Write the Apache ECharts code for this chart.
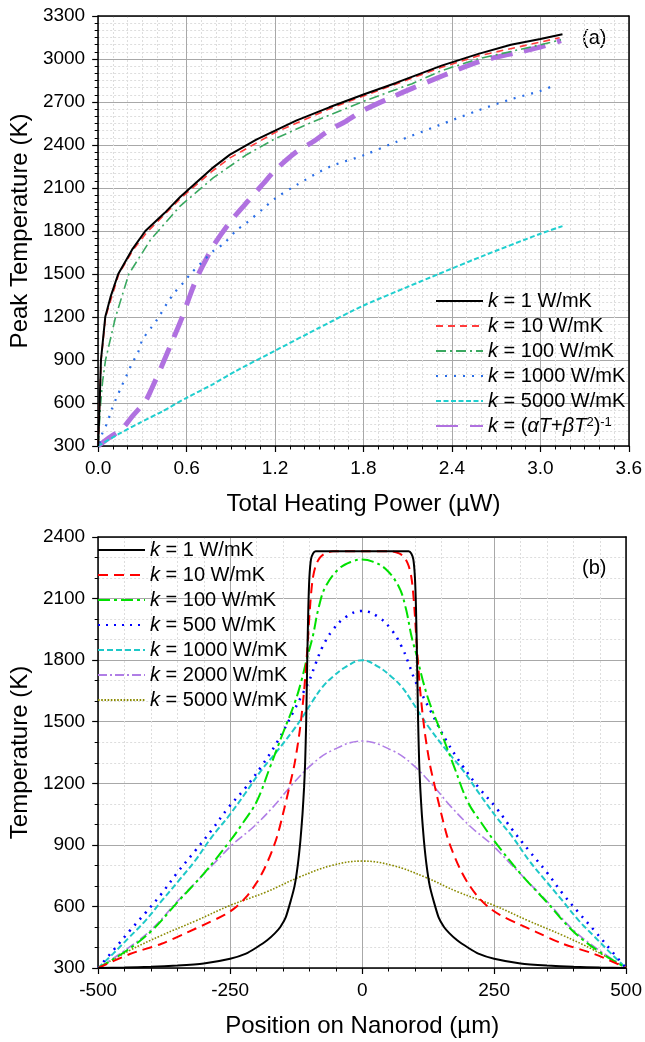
<!DOCTYPE html>
<html><head><meta charset="utf-8">
<script src="https://cdn.jsdelivr.net/npm/echarts/dist/echarts.min.js"></script>
<style>html,body{margin:0;padding:0;background:#fff}#c{width:645px;height:1042px}</style>
</head><body><div id="c"></div>
<script>
// ---------- Panel (a): Peak temperature vs total heating power ----------
const aXTicks = [0, 3.6, 0.6];      // min, max, interval (µW)
const aYTicks = [300, 3300, 300];   // min, max, interval (K)
const aK1 = [[0,300],[0.005,450],[0.01,600],[0.019,900],[0.048,1200],[0.084,1340],[0.136,1500],[0.23,1670],[0.32,1800],[0.45,1925],[0.556,2037],[0.77,2235],[0.894,2333],[1.073,2438],[1.2,2500],[1.343,2570],[1.568,2663],[1.8,2752],[2.02,2833],[2.33,2954],[2.58,3036],[2.8,3099],[3.0,3140],[3.15,3172]];
const aK10 = [[0,300],[0.005,450],[0.01,600],[0.02,900],[0.05,1200],[0.14,1500],[0.235,1665],[0.33,1790],[0.556,2025],[0.77,2215],[0.894,2310],[1.2,2487],[1.568,2652],[1.8,2742],[2.33,2942],[2.58,3022],[3.0,3118],[3.13,3148]];
const aK100 = [[0,300],[0.008,450],[0.017,600],[0.03,750],[0.05,900],[0.118,1200],[0.208,1500],[0.354,1737],[0.556,1974],[0.78,2170],[1.0,2328],[1.2,2444],[1.455,2561],[1.8,2705],[2.13,2828],[2.33,2919],[2.58,3001],[3.0,3099],[3.14,3134]];
const aK1000 = [[0.01,320],[0.028,388],[0.062,463],[0.09,551],[0.12,626],[0.158,714],[0.197,802],[0.23,877],[0.27,951],[0.3,1040],[0.36,1126],[0.41,1198],[0.47,1300],[0.52,1372],[0.58,1442],[0.63,1505],[0.69,1568],[0.79,1668],[0.85,1710],[0.94,1807],[1.0,1851],[1.12,1956],[1.2,2026],[1.343,2119],[1.568,2247],[1.8,2328],[2.02,2421],[2.31,2537],[2.58,2642],[2.8,2719],[3.0,2777],[3.08,2810]];
const aK5000 = [[0,300],[0.14,384],[0.275,458],[0.433,540],[0.594,633],[0.77,726],[0.927,819],[1.2,965],[1.5,1125],[1.8,1280],[2.31,1500],[2.62,1630],[3.0,1781],[3.15,1834]];
const aKvar = [[0,300],[0.084,365],[0.16,416],[0.23,505],[0.32,612],[0.365,705],[0.43,854],[0.51,1050],[0.567,1191],[0.612,1319],[0.668,1470],[0.736,1610],[0.79,1710],[0.894,1862],[1.0,1990],[1.12,2130],[1.2,2223],[1.343,2351],[1.455,2421],[1.568,2502],[1.68,2565],[1.8,2642],[1.995,2735],[2.13,2795],[2.35,2888],[2.58,2980],[2.85,3048],[3.0,3083],[3.14,3129]];

// ---------- Panel (b): Temperature along the nanorod ----------
const bXTicks = [-500, 500, 250];
const bYTicks = [300, 2400, 300];
const bK1 = [[-500,300],[-450,302],[-400,306],[-350,312],[-300,322],[-250,345],[-220,370],[-200,400],[-180,435],[-165,470],[-155,500],[-145,545],[-135,630],[-128,700],[-122,800],[-117,920],[-113,1050],[-110,1180],[-108,1300],[-106,1500],[-104,1800],[-102,2050],[-100,2200],[-97,2290],[-93,2320],[-88,2330],[-50,2330],[0,2330],[50,2330],[88,2330],[93,2320],[97,2290],[100,2200],[102,2050],[104,1800],[106,1500],[108,1300],[110,1180],[113,1050],[117,920],[122,800],[128,700],[135,630],[145,545],[155,500],[165,470],[180,435],[200,400],[220,370],[250,345],[300,322],[350,312],[400,306],[450,302],[500,300]];
const bK10 = [[-500,300],[-440,368],[-380,418],[-330,475],[-300,510],[-260,560],[-240,595],[-220,645],[-200,715],[-185,785],[-170,875],[-160,950],[-150,1050],[-138,1180],[-128,1296],[-118,1460],[-110,1650],[-104,1850],[-99,2050],[-94,2190],[-88,2260],[-80,2300],[-70,2320],[-55,2330],[0,2330],[55,2330],[70,2320],[80,2300],[88,2260],[94,2190],[99,2050],[104,1850],[110,1650],[118,1460],[128,1296],[138,1180],[150,1050],[160,950],[170,875],[185,785],[200,715],[220,645],[240,595],[260,560],[300,510],[330,475],[380,418],[440,368],[500,300]];
const bK100 = [[-500,300],[-450,378],[-400,478],[-350,620],[-300,760],[-250,920],[-225,1010],[-200,1110],[-175,1275],[-150,1445],[-128,1590],[-115,1700],[-104,1815],[-94,1910],[-82,2060],[-69,2160],[-44,2245],[-20,2280],[0,2290],[20,2280],[44,2245],[69,2160],[82,2060],[94,1910],[104,1815],[115,1700],[128,1590],[150,1445],[175,1275],[200,1110],[225,1010],[250,920],[300,760],[350,620],[400,478],[450,378],[500,300]];
const bK500 = [[-500,300],[-470,390],[-440,482],[-410,570],[-380,662],[-350,765],[-315,875],[-285,972],[-254,1080],[-222,1175],[-191,1282],[-160,1405],[-129,1555],[-113,1635],[-100,1702],[-88,1784],[-75,1865],[-56,1946],[-31,2010],[0,2040],[31,2010],[56,1946],[75,1865],[88,1784],[100,1702],[113,1635],[129,1555],[160,1405],[191,1282],[222,1175],[254,1080],[285,972],[315,875],[350,765],[380,662],[410,570],[440,482],[470,390],[500,300]];
const bK1000 = [[-500,300],[-472,369],[-441,450],[-410,532],[-379,629],[-347,727],[-316,824],[-285,938],[-254,1036],[-222,1149],[-191,1263],[-160,1360],[-130,1460],[-113,1523],[-94,1600],[-75,1670],[-56,1718],[-31,1767],[0,1800],[31,1767],[56,1718],[75,1670],[94,1600],[113,1523],[130,1460],[160,1360],[191,1263],[222,1149],[254,1036],[285,938],[316,824],[347,727],[379,629],[410,532],[441,450],[472,369],[500,300]];
const bK2000 = [[-500,300],[-450,385],[-400,485],[-350,625],[-316,715],[-281,808],[-244,905],[-206,987],[-169,1084],[-131,1198],[-94,1295],[-57,1360],[0,1406],[57,1360],[94,1295],[131,1198],[169,1084],[206,987],[244,905],[281,808],[316,715],[350,625],[400,485],[450,385],[500,300]];
const bK5000 = [[-500,300],[-440,386],[-380,459],[-315,530],[-250,605],[-182,670],[-119,743],[-57,800],[0,821],[57,800],[119,743],[182,670],[250,605],[315,530],[380,459],[440,386],[500,300]];

const FONT = '"Liberation Sans", Arial, Helvetica, sans-serif';
const chart = echarts.init(document.getElementById('c'), null, {renderer: 'canvas'});

const legendNames = {
  a1: '{i|k} = 1 W/mK', a10: '{i|k} = 10 W/mK', a100: '{i|k} = 100 W/mK',
  a1000: '{i|k} = 1000 W/mK', a5000: '{i|k} = 5000 W/mK',
  avar: '{i|k} = ({i|αT}+{i|βT}{sup|2}){sup|-1}',
  b1: '{i|k} = 1 W/mK', b10: '{i|k} = 10 W/mK', b100: '{i|k} = 100 W/mK',
  b500: '{i|k} = 500 W/mK', b1000: '{i|k} = 1000 W/mK', b2000: '{i|k} = 2000 W/mK', b5000: '{i|k} = 5000 W/mK'
};
const rich = {
  i: {fontStyle: 'italic', fontSize: 20, fontFamily: FONT, color: '#000'},
  sup: {fontSize: 13, fontFamily: FONT, color: '#000', verticalAlign: 'top', padding: [0,0,8,0]}
};

function mainX(grid, t, name, fmt, minorSplit) {
  return {
    gridIndex: grid, type: 'value', min: t[0], max: t[1], interval: t[2],
    name: name, nameLocation: 'middle', nameGap: 46,
    nameTextStyle: {fontSize: 24, color: '#000', fontFamily: FONT},
    axisLine: {show: true, onZero: false, lineStyle: {color: '#000', width: 1.5}},
    axisTick: {show: true, length: 6, lineStyle: {color: '#000', width: 1.2}},
    minorTick: {show: true, splitNumber: minorSplit, length: 3.5, lineStyle: {color: '#000', width: 1}},
    axisLabel: {fontSize: 19, color: '#000', margin: 13, fontFamily: FONT, formatter: fmt},
    splitLine: {show: true, lineStyle: {color: '#a8a8a8', width: 1}},
    minorSplitLine: {show: true, lineStyle: {color: '#dddddd', width: 1, type: [2, 2]}}
  };
}
function mainY(grid, t, name, minorSplit) {
  return {
    gridIndex: grid, type: 'value', min: t[0], max: t[1], interval: t[2],
    name: name, nameLocation: 'middle', nameGap: 64,
    nameTextStyle: {fontSize: 24, color: '#000', fontFamily: FONT},
    axisLine: {show: true, onZero: false, lineStyle: {color: '#000', width: 1.5}},
    axisTick: {show: true, length: 6, lineStyle: {color: '#000', width: 1.2}},
    minorTick: {show: true, splitNumber: minorSplit, length: 3.5, lineStyle: {color: '#000', width: 1}},
    axisLabel: {fontSize: 19, color: '#000', margin: 13, fontFamily: FONT, formatter: v => String(v)},
    splitLine: {show: true, lineStyle: {color: '#a8a8a8', width: 1}},
    minorSplitLine: {show: true, lineStyle: {color: '#dddddd', width: 1, type: [2, 2]}}
  };
}
function frameX(grid, t) {
  return {gridIndex: grid, type: 'value', position: 'top', min: t[0], max: t[1],
    axisLine: {show: true, onZero: false, lineStyle: {color: '#000', width: 1.5}},
    axisTick: {show: false}, axisLabel: {show: false}, splitLine: {show: false}};
}
function frameY(grid, t) {
  return {gridIndex: grid, type: 'value', position: 'right', min: t[0], max: t[1],
    axisLine: {show: true, onZero: false, lineStyle: {color: '#000', width: 1.5}},
    axisTick: {show: false}, axisLabel: {show: false}, splitLine: {show: false}};
}
function ser(name, data, xi, yi, color, width, type, smooth) {
  return {name: name, type: 'line', data: data, xAxisIndex: xi, yAxisIndex: yi,
    symbol: 'none', smooth: smooth || false, clip: true,
    lineStyle: {color: color, width: width, type: type}, itemStyle: {color: color}};
}
const legendBase = {orient: 'vertical', padding: 0, itemWidth: 47, itemHeight: 12, itemGap: 5,
  itemStyle: {opacity: 0, borderWidth: 0},
  formatter: n => legendNames[n],
  textStyle: {fontSize: 20, lineHeight: 20, color: '#000', fontFamily: FONT, rich: rich}};

const option = {
  animation: false,
  backgroundColor: '#fff',
  textStyle: {fontFamily: FONT},
  grid: [
    {left: 97, right: 14, top: 16, height: 430},
    {left: 97, right: 14, top: 537, height: 431}
  ],
  xAxis: [
    mainX(0, aXTicks, 'Total Heating Power (µW)', v => v.toFixed(1), 6),
    mainX(1, bXTicks, 'Position on Nanorod (µm)', v => String(v), 5),
    frameX(0, aXTicks), frameX(1, bXTicks)
  ],
  yAxis: [
    mainY(0, aYTicks, 'Peak Temperature (K)', 6),
    mainY(1, bYTicks, 'Temperature (K)', 3),
    frameY(0, aYTicks), frameY(1, bYTicks)
  ],
  legend: [
    Object.assign({}, legendBase, {left: 435, top: 291, data: ['a1','a10','a100','a1000','a5000','avar']}),
    Object.assign({}, legendBase, {left: 97, top: 540, data: ['b1','b10','b100','b500','b1000','b2000','b5000']})
  ],
  graphic: [
    {type: 'text', left: 582, top: 28, style: {text: '(a)', font: '20px ' + FONT, fill: '#000'}},
    {type: 'text', left: 582, top: 558, style: {text: '(b)', font: '20px ' + FONT, fill: '#000'}}
  ],
  series: [
    ser('avar', aKvar, 0, 0, '#b071e0', 5, [22, 12], 0.3),
    ser('a5000', aK5000, 0, 0, '#1fcfcf', 2, [5, 2.5], 0.2),
    ser('a1000', aK1000, 0, 0, '#2a6ee6', 2.2, [2, 7], 0.3),
    ser('a100', aK100, 0, 0, '#3aa860', 1.6, [10, 4, 2, 4]),
    ser('a10', aK10, 0, 0, '#ff3c3c', 1.6, [7, 5]),
    ser('a1', aK1, 0, 0, '#000000', 2),
    ser('b5000', bK5000, 1, 1, '#8a8a00', 1.6, [1.6, 1.6], 0.4),
    ser('b2000', bK2000, 1, 1, '#b07ee6', 1.6, [9, 3, 2, 3], 0.4),
    ser('b1000', bK1000, 1, 1, '#1ec8c8', 2, [6, 3], 0.4),
    ser('b500', bK500, 1, 1, '#0000ff', 2.5, [2, 6], 0.4),
    ser('b100', bK100, 1, 1, '#00e000', 2, [12, 4, 3, 4], 0.4),
    ser('b10', bK10, 1, 1, '#ff0000', 2, [10, 6], 0.3),
    ser('b1', bK1, 1, 1, '#000000', 2, 'solid', 0.2)
  ]
};
chart.setOption(option);
</script></body></html>
